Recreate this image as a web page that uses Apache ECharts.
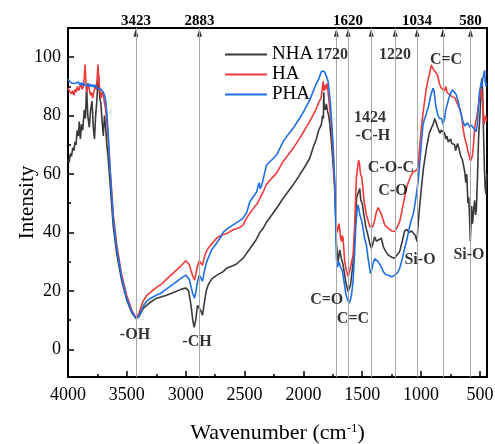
<!DOCTYPE html>
<html>
<head>
<meta charset="utf-8">
<script src="https://cdn.jsdelivr.net/npm/echarts@6/dist/echarts.min.js"></script>
<style>
  html, body { margin: 0; padding: 0; background: #fff; }
  #chart { width: 495px; height: 444px; }
</style>
</head>
<body>
<div id="chart"></div>
<script>
// FTIR spectra of three humic acid samples: [wavenumber (cm-1), intensity]
const nha = [[4000,65],[3990,64],[3980,67],[3970,66],[3960,69],[3950,68],[3940,71],[3932,70],[3922,75],[3912,73],[3904,78],[3895,72],[3885,77],[3875,75],[3862,82],[3852,79],[3842,90],[3832,80],[3819,76],[3808,82],[3796,85],[3785,76],[3775,72],[3765,80],[3757,84],[3748,90],[3740,94],[3730,86],[3720,84],[3710,78],[3700,73],[3690,80],[3680,76],[3670,70],[3660,66],[3643,57],[3615,42],[3587,33],[3544,23.5],[3502,17],[3459,12.6],[3423,10.5],[3400,11],[3361,14],[3304,16],[3247,17.5],[3162,18.5],[3100,19.5],[3040,20.5],[3000,21],[2975,20],[2955,15],[2940,10],[2928,7.5],[2915,10],[2900,15],[2885,15],[2870,13],[2857,11.7],[2845,15],[2825,20],[2809,22],[2780,24],[2738,25.3],[2682,26.6],[2653,27.7],[2600,28.6],[2568,29.2],[2512,31.2],[2455,34.4],[2400,37.6],[2370,40],[2342,41.4],[2313,43.5],[2228,48.3],[2172,51.7],[2087,56.3],[2031,59.7],[1980,63],[1946,65.4],[1918,69],[1890,72],[1870,75],[1847,77],[1837,80],[1830,79],[1827,88],[1823,83],[1815,82],[1805,84],[1795,81.5],[1785,80],[1775,77],[1762,71],[1745,62],[1733,54],[1725,45],[1719,36],[1705,30],[1691,34],[1677,31],[1663,29],[1640,23],[1620,19.7],[1600,22],[1585,27],[1570,33],[1560,42],[1548,52],[1535,53.5],[1521,55],[1512,51],[1500,50],[1490,47],[1470,42],[1451,39],[1435,36],[1422,34.6],[1410,36],[1395,38.5],[1380,37],[1360,37.5],[1338,38],[1320,35],[1300,33.5],[1281,32.3],[1250,31.5],[1224,31.2],[1200,32.5],[1182,33.5],[1160,37],[1140,40.5],[1120,41],[1100,40],[1080,40.5],[1065,40.3],[1050,39],[1035,36.9],[1025,43],[1010,50],[998,55],[980,62],[965,66],[955,68.8],[940,72],[930,74],[913,75.7],[898,77],[884,79],[871,78.5],[860,76],[850,75.5],[840,74],[830,75],[815,74.5],[800,74],[790,72],[780,73],[770,71],[757,71],[748,72],[740,70.5],[727,71],[715,70],[707,68],[700,69],[690,70.5],[680,69],[672,69],[662,66],[650,65],[640,63],[630,61],[620,57],[612,60],[602,50],[595,52],[588,45],[582,37],[575,44],[570,49],[563,43],[555,47],[545,51],[537,46],[530,48],[520,60],[512,72],[500,80],[490,88],[484,92.8],[478,89],[470,75],[462,62],[455,55],[448,53],[442,60]];

const ha = [[4000,89.5],[3990,88.5],[3980,89],[3970,87.5],[3960,88.5],[3950,87],[3940,89],[3932,88],[3920,90],[3910,88.5],[3900,89],[3890,91],[3880,89],[3870,90],[3862,93],[3855,97.5],[3848,92],[3840,88],[3830,91],[3819,89],[3810,87],[3800,88],[3791,86],[3780,88],[3770,90],[3760,89],[3752,93],[3745,97.5],[3738,92],[3730,89],[3720,86],[3710,88],[3700,87],[3692,85],[3680,82],[3670,78],[3660,73],[3643,62],[3615,46],[3587,36],[3544,25.5],[3502,18.5],[3459,13.5],[3423,10.8],[3400,12],[3380,14.5],[3361,16.5],[3330,18.5],[3304,19.3],[3270,20.5],[3247,21.2],[3200,22.5],[3162,24],[3100,26.3],[3040,28.5],[3000,30.3],[2985,30],[2970,29],[2955,27],[2940,25],[2925,23.7],[2912,26],[2900,28.5],[2885,30.2],[2870,30],[2857,28.8],[2845,31],[2830,33],[2809,34.6],[2780,36],[2738,38],[2700,39],[2653,39.6],[2597,40.9],[2550,41.5],[2512,42.5],[2483,44.9],[2455,46.6],[2420,48.5],[2390,50],[2370,51.7],[2340,54],[2313,56.5],[2270,58.5],[2228,60.3],[2172,64.3],[2130,66.5],[2087,68.8],[2031,72.3],[1990,75],[1946,78],[1918,80.2],[1895,82],[1870,84.5],[1850,86],[1840,89],[1832,91.7],[1825,88.5],[1818,90.5],[1810,89],[1800,91],[1790,88],[1780,84],[1770,80],[1762,76.8],[1745,65],[1733,56.3],[1725,48],[1719,42],[1712,40],[1705,40.4],[1698,43],[1691,41],[1684,38],[1677,36.9],[1670,39],[1663,38],[1649,30],[1635,27],[1620,24.9],[1605,27],[1590,30],[1578,32.3],[1565,42],[1556,52],[1550,58.6],[1540,62],[1530,64.8],[1522,63],[1515,60],[1505,59],[1499,57],[1485,51],[1465,46],[1450,44],[1435,42],[1422,41.4],[1410,42],[1395,44],[1380,47],[1365,48.5],[1351,48.3],[1335,46],[1320,44],[1309,42.6],[1280,41.5],[1250,40.5],[1224,40.3],[1200,42],[1182,43.7],[1160,48],[1140,52],[1125,55],[1110,57],[1090,59],[1069,60.8],[1050,61],[1035,61.5],[1026,62],[1015,68],[998,75.7],[980,82],[970,85],[955,89.4],[940,92.5],[930,94],[920,96],[913,97.4],[905,96.5],[899,97],[890,95.5],[880,95],[870,94.5],[857,93.5],[845,91],[830,89.5],[814,89.4],[800,88.5],[790,90],[780,88],[770,87.5],[757,87.1],[745,87.5],[735,86.5],[720,87],[710,86],[701,84.8],[690,84],[680,83],[668,82],[658,80.2],[650,78],[644,75.7],[630,72.5],[620,71],[610,69.5],[602,67.7],[590,66],[580,64.5],[573,64.3],[565,66],[555,70],[545,75.7],[535,78],[525,80],[515,83],[503,86],[495,88],[488,89.4],[480,86],[472,82],[465,77],[458,79],[450,80],[443,78]];

const pha = [[4000,92.5],[3990,91.8],[3980,91.5],[3970,91.2],[3960,91.7],[3950,91],[3940,90.5],[3930,91.2],[3920,90.8],[3910,91.5],[3900,90.5],[3890,91.2],[3880,90.3],[3870,91.3],[3860,90.4],[3850,91],[3840,90.2],[3830,91],[3820,90],[3810,90.8],[3800,89.8],[3790,90.6],[3780,89.7],[3770,90.5],[3760,89.6],[3750,90],[3740,89.3],[3730,89.5],[3720,89],[3710,88.5],[3700,88],[3690,87],[3680,85],[3670,81],[3660,75],[3643,62],[3615,44.5],[3587,34.6],[3544,24.5],[3502,17.5],[3459,13],[3423,10.6],[3400,11],[3380,13],[3361,14.7],[3330,16.5],[3304,17.3],[3247,18.6],[3219,19],[3162,20.7],[3100,22.5],[3040,24.3],[3000,25.4],[2985,25],[2970,24],[2955,21.5],[2940,19],[2925,17.5],[2912,20],[2900,23],[2885,25.4],[2870,25],[2857,23.3],[2845,26],[2825,29.5],[2809,31.2],[2780,34],[2738,36.3],[2700,38.5],[2682,40],[2640,41.5],[2597,42.6],[2550,43.8],[2512,44.9],[2480,47],[2455,50.6],[2420,52.5],[2395,54],[2385,56],[2375,57],[2368,55],[2355,56],[2340,58.5],[2313,63.1],[2270,64.8],[2228,66.5],[2172,71.1],[2130,73.5],[2087,75.7],[2031,79.1],[1990,82],[1946,85.4],[1918,88.2],[1895,90.5],[1870,92.5],[1847,95.1],[1835,95.6],[1827,95.3],[1815,94.5],[1800,93],[1790,91.7],[1780,88],[1770,84],[1762,79],[1745,68],[1733,56],[1725,42],[1719,31],[1712,28],[1705,27.7],[1698,30],[1691,30],[1684,28],[1677,27.5],[1670,27],[1663,25.4],[1650,22],[1640,19],[1625,17],[1612,15.8],[1600,17],[1590,19],[1578,23.2],[1565,33],[1555,42],[1545,47],[1536,49.4],[1528,48],[1520,46],[1505,44],[1493,41.4],[1480,38],[1465,35.7],[1450,31],[1431,26],[1420,27],[1410,29],[1395,31],[1380,31.2],[1365,30],[1351,29.5],[1335,28],[1320,26.5],[1300,25.5],[1281,25.4],[1250,24.8],[1224,25.4],[1200,26.2],[1182,27.7],[1160,31],[1140,34.5],[1125,36.9],[1100,41.5],[1085,44],[1069,46],[1055,49],[1040,53],[1026,57.4],[1015,62],[1005,67],[995,72],[984,76.8],[970,79],[960,80],[950,81.5],[941,82.5],[930,84.5],[920,86.5],[910,88],[899,89.4],[890,88.5],[880,85],[871,82.5],[857,80.2],[845,79],[835,78.5],[825,79],[815,77],[808,76.8],[800,79],[790,82],[780,83.5],[772,84.8],[760,86.5],[750,87.5],[735,88.8],[725,88.5],[715,88],[701,87.1],[690,85.5],[680,84],[670,82],[658,80.2],[648,78.5],[640,77.5],[630,76.5],[616,76.5],[605,77.5],[595,77],[585,76],[573,76.8],[560,76],[545,75.7],[531,74.5],[522,77],[515,82],[508,86],[503,88.2],[495,90],[488,91.7],[482,90],[475,92.8],[468,94],[460,95.5],[455,92],[450,90],[443,91]];

// Axis ticks
const wnTicks = [4000, 3500, 3000, 2500, 2000, 1500, 1000, 500];
const wnMinorTicks = [3750, 3250, 2750, 2250, 1750, 1250, 750];
const intTicks = [0, 20, 40, 60, 80, 100];
const intMinorTicks = [10, 30, 50, 70, 90];

// Characteristic absorption bands (vertical guide lines) and those numbered above the frame
const bandLines = [3423, 2883, 1720, 1620, 1424, 1220, 1034, 815, 580];
const bandTopLabels = [3423, 2883, 1620, 1034, 580];

// Functional-group annotations: [wavenumber, intensity, text]
const annotations = [
  [3431, 4.9, '-OH'],
  [2904, 2.5, '-CH'],
  [1802, 16.9, 'C=O'],
  [1579, 10.5, 'C=C'],
  [1757, 100.7, '1720'],
  [1222, 100.7, '1220'],
  [788, 99, 'C=C'],
  [1434, 79.4, '1424'],
  [1409, 73, '-C-H'],
  [1256, 62.2, 'C-O-C'],
  [1239, 54.2, 'C-O'],
  [1009, 30.6, 'Si-O'],
  [593, 32.3, 'Si-O']
];

const WN_MIN = 440, WN_MAX = 4000;
const INT_MIN = -9.5, INT_MAX = 110;
const FONT = "'Liberation Serif', 'Times New Roman', serif";

const chart = echarts.init(document.getElementById('chart'), null, { renderer: 'canvas' });

const plainNumber = v => String(v);

const xBase = {
  type: 'value', min: WN_MIN, max: WN_MAX, inverse: true,
  splitLine: { show: false }, position: 'bottom'
};
const yBase = {
  type: 'value', min: INT_MIN, max: INT_MAX,
  splitLine: { show: false }, position: 'left'
};

const option = {
  animation: false,
  backgroundColor: '#fff',
  grid: {
    left: 68, right: 8, top: 28, bottom: 67,
    containLabel: false, outerBoundsMode: 'none',
    show: true, borderColor: '#000', borderWidth: 2, backgroundColor: 'transparent'
  },
  legend: {
    data: ['NHA', 'HA', 'PHA'],
    orient: 'vertical', left: 220, top: 40,
    icon: 'rect', itemWidth: 42, itemHeight: 2, itemGap: 1,
    textStyle: { fontFamily: FONT, fontSize: 19, color: '#000', lineHeight: 19 }
  },
  xAxis: [
    Object.assign({}, xBase, {
      name: 'Wavenumber (cm{sup|-1})',
      nameLocation: 'middle', nameGap: 45, nameMoveOverlap: false,
      nameTextStyle: {
        fontFamily: FONT, fontSize: 22, color: '#000',
        rich: { sup: { fontFamily: FONT, fontSize: 13, color: '#000', verticalAlign: 'top', lineHeight: 13 } }
      },
      axisLine: { show: true, onZero: false, lineStyle: { color: '#000', width: 2 } },
      axisTick: { show: true, inside: true, length: 6, customValues: wnTicks, lineStyle: { color: '#000', width: 1.5 } },
      axisLabel: { customValues: wnTicks, formatter: plainNumber, margin: 9, fontFamily: FONT, fontSize: 18, color: '#000' }
    }),
    Object.assign({}, xBase, {
      axisLine: { show: false, onZero: false },
      axisTick: { show: true, inside: true, length: 3, customValues: wnMinorTicks, lineStyle: { color: '#000', width: 1.5 } },
      axisLabel: { show: false }
    })
  ],
  yAxis: [
    Object.assign({}, yBase, {
      name: 'Intensity', nameLocation: 'middle', nameRotate: 90, nameGap: 30, nameMoveOverlap: false,
      nameTextStyle: { fontFamily: FONT, fontSize: 21, color: '#000' },
      axisLine: { show: true, onZero: false, lineStyle: { color: '#000', width: 2 } },
      axisTick: { show: true, inside: true, length: 6, customValues: intTicks, lineStyle: { color: '#000', width: 1.5 } },
      axisLabel: { customValues: intTicks, formatter: plainNumber, margin: 7, fontFamily: FONT, fontSize: 18, color: '#000' }
    }),
    Object.assign({}, yBase, {
      axisLine: { show: false, onZero: false },
      axisTick: { show: true, inside: true, length: 3, customValues: intMinorTicks, lineStyle: { color: '#000', width: 1.5 } },
      axisLabel: { show: false }
    })
  ],
  series: [
    {
      // guide lines at the assigned absorption bands
      type: 'line', data: [], z: 1, silent: true,
      markLine: {
        silent: true, symbol: ['none', 'none'],
        lineStyle: { color: '#a9a9a9', width: 1, type: 'solid' },
        label: {
          position: 'end', distance: -1,
          fontFamily: FONT, fontSize: 15, fontWeight: 'bold', color: '#000'
        },
        data: bandLines.map(w => ({
          xAxis: w,
          label: { show: bandTopLabels.indexOf(w) >= 0, formatter: String(w) }
        }))
      }
    },
    {
      // arrow heads at the top of each guide line
      type: 'scatter', z: 4, silent: true, clip: false,
      symbol: 'triangle', symbolSize: [5, 8],
      itemStyle: { color: '#000' },
      data: bandLines.map(w => [w, INT_MAX - 1.6])
    },
    {
      name: 'NHA', type: 'line', z: 2, showSymbol: false, symbol: 'none',
      lineStyle: { color: '#3a3a3a', width: 1.6 }, itemStyle: { color: '#3a3a3a' },
      data: nha
    },
    {
      name: 'HA', type: 'line', z: 2, showSymbol: false, symbol: 'none',
      lineStyle: { color: '#f03a3a', width: 1.6 }, itemStyle: { color: '#f03a3a' },
      data: ha
    },
    {
      name: 'PHA', type: 'line', z: 2, showSymbol: false, symbol: 'none',
      lineStyle: { color: '#1e6fe3', width: 1.6 }, itemStyle: { color: '#1e6fe3' },
      data: pha
    },
    {
      // functional-group labels
      type: 'scatter', z: 5, silent: true, clip: false,
      symbolSize: 1, itemStyle: { color: 'rgba(0,0,0,0)' },
      data: annotations,
      label: {
        show: true, position: 'inside',
        formatter: p => p.value[2],
        fontFamily: FONT, fontSize: 16, fontWeight: 'bold', color: '#000'
      }
    }
  ]
};

chart.setOption(option);
</script>
</body>
</html>
